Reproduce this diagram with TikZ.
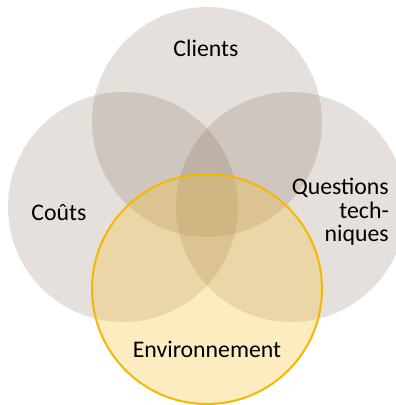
\documentclass[tikz,border=0pt]{standalone}
\usepackage{fontspec}
\setmainfont{Carlito}
\definecolor{greyfill}{RGB}{110,85,60}
\definecolor{yellowfill}{RGB}{248,192,45}
\definecolor{orangeline}{RGB}{245,183,0}
\tikzset{
  greycircle/.style={circle, inner sep=0pt, minimum size=230pt, fill=greyfill, fill opacity=0.18},
  yellowcircle/.style={circle, inner sep=0pt, minimum size=230pt, fill=yellowfill, fill opacity=0.3},
  ringline/.style={circle, inner sep=0pt, minimum size=230pt, draw=orangeline, line width=2pt},
  label/.style={font=\fontsize{23.8}{24}\selectfont, text=black, inner sep=0pt}
}
\begin{document}
\begin{tikzpicture}[x=1pt,y=-1pt]
\useasboundingbox (0,0) rectangle (396,405);
\clip (0,0) rectangle (396,405);
\node[greycircle] (clients) at (207,122) {};
\node[greycircle] (couts) at (123,207) {};
\node[greycircle] (questions) at (291,207) {};
\node[yellowcircle] (env) at (207,289) {};
\node[ringline] (envring) at (207,289) {};
\node[label, anchor=base] (tclients) at (206,56) {Clients};
\node[label, anchor=base] (tcouts) at (59,220) {Coûts};
\node[label, anchor=base east] (tquestions) at (389,194) {Questions};
\node[label, anchor=base east] (ttech) at (389,218) {tech-};
\node[label, anchor=base east] (tniques) at (389,241) {niques};
\node[label, anchor=base] (tenv) at (207,357) {Environnement};
\end{tikzpicture}
\end{document}
